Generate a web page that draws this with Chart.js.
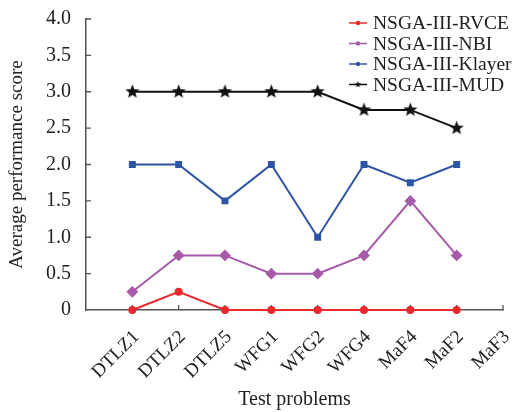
<!DOCTYPE html>
<html>
<head>
<meta charset="utf-8">
<script src="https://cdn.jsdelivr.net/npm/chart.js@4"></script>
<style>
  body { margin: 0; background: #fff; }
</style>
</head>
<body>
<canvas id="scoreChart" width="515" height="412"></canvas>
<script>
// Testproblemen en scores per algoritme
const problems = ["DTLZ1", "DTLZ2", "DTLZ5", "WFG1", "WFG2", "WFG4", "MaF4", "MaF2", "MaF3"];
const rvce = [0, 0.25, 0, 0, 0, 0, 0, 0];
const nbi = [0.25, 0.75, 0.75, 0.5, 0.5, 0.75, 1.5, 0.75];
const klayer = [2, 2, 1.5, 2, 1, 2, 1.75, 2];
const mud = [3, 3, 3, 3, 3, 2.75, 2.75, 2.5];
const yTicks = [0, 0.5, 1, 1.5, 2, 2.5, 3, 3.5, 4];

const serif = "'Liberation Serif', 'DejaVu Serif', serif";

// Gevulde ster als puntstijl
function makeStar(r, color) {
    const c = document.createElement("canvas");
    c.width = c.height = Math.ceil(r * 2 + 2);
    const g = c.getContext("2d");
    const cx = c.width / 2, cy = c.height / 2;
    g.beginPath();
    for (let i = 0; i < 10; i++) {
        const rad = i % 2 === 0 ? r : r * 0.42;
        const a = -Math.PI / 2 + i * Math.PI / 5;
        g.lineTo(cx + rad * Math.cos(a), cy + rad * Math.sin(a));
    }
    g.closePath();
    g.fillStyle = color;
    g.fill();
    return c;
}

const toPoints = arr => arr.map((v, i) => ({ x: i + 1, y: v }));

const series = [
    { label: "NSGA-III-RVCE", data: rvce, color: "#e8282c", style: "circle", radius: 3 },
    { label: "NSGA-III-NBI", data: nbi, color: "#a65aa8", style: "rectRot", radius: 4.5 },
    { label: "NSGA-III-Klayer", data: klayer, color: "#2d55a3", style: "rect", radius: 3.5 },
    { label: "NSGA-III-MUD", data: mud, color: "#111111", style: makeStar(7.5, "#111111"), radius: 7 }
];

// Legenda rechtsboven in het plotvlak
const legendPlugin = {
    id: "cornerLegend",
    afterDraw(chart) {
        const ctx = chart.ctx;
        ctx.save();
        ctx.font = "19.5px " + serif;
        ctx.textBaseline = "middle";
        ctx.textAlign = "left";
        series.forEach((s, i) => {
            const y = 23 + i * 20.5;
            ctx.strokeStyle = s.color;
            ctx.lineWidth = 1.5;
            ctx.beginPath();
            ctx.moveTo(349, y);
            ctx.lineTo(367, y);
            ctx.stroke();
            ctx.fillStyle = s.color;
            if (i === 3) {
                const st = makeStar(3.5, s.color);
                ctx.drawImage(st, 358 - st.width / 2, y - st.height / 2);
            } else {
                ctx.beginPath();
                ctx.arc(358, y, 2.2, 0, Math.PI * 2);
                ctx.fill();
            }
            ctx.fillStyle = "#222";
            ctx.fillText(s.label, 373, y + 1);
        });
        ctx.restore();
    }
};

// Tickjes naar binnen gericht
const innerTicks = {
    id: "innerTicks",
    beforeDatasetsDraw(chart) {
        const { ctx, chartArea, scales } = chart;
        ctx.save();
        ctx.strokeStyle = "#555";
        ctx.lineWidth = 1.3;
        ctx.beginPath();
        yTicks.forEach(v => {
            if (v === 0) return;
            const y = scales.y.getPixelForValue(v);
            ctx.moveTo(chartArea.left, y);
            ctx.lineTo(chartArea.left + 5, y);
        });
        problems.forEach((p, i) => {
            const x = scales.x.getPixelForValue(i + 1);
            ctx.moveTo(x, chartArea.bottom);
            ctx.lineTo(x, chartArea.bottom - 5);
        });
        ctx.stroke();
        ctx.restore();
    }
};

new Chart(document.getElementById("scoreChart"), {
    type: "line",
    data: {
        datasets: series.map(s => ({
            label: s.label,
            data: toPoints(s.data),
            borderColor: s.color,
            backgroundColor: s.color,
            pointBackgroundColor: s.color,
            pointBorderColor: s.color,
            pointStyle: s.style,
            pointRadius: s.radius,
            borderWidth: 2,
            tension: 0,
            clip: false,
            fill: false
        }))
    },
    options: {
        responsive: false,
        animation: false,
        layout: { padding: { top: 19, right: 12, left: 0, bottom: 0 } },
        plugins: {
            legend: { display: false },
            tooltip: { enabled: false }
        },
        scales: {
            x: {
                type: "linear",
                min: 0,
                max: 9,
                afterFit(scale) {
                    scale.height = 102;
                    scale.paddingLeft = 0;
                    scale.paddingRight = 0;
                },
                afterBuildTicks(scale) {
                    scale.ticks = problems.map((p, i) => ({ value: i + 1 }));
                },
                grid: { display: false, drawTicks: false },
                border: { display: true, color: "#555", width: 1.5 },
                ticks: {
                    autoSkip: false,
                    minRotation: 45,
                    maxRotation: 45,
                    padding: 16,
                    labelOffset: 4,
                    color: "#222",
                    font: { family: serif, size: 19 },
                    callback: v => problems[v - 1] || ""
                },
                title: {
                    display: true,
                    text: "Test problems",
                    color: "#222",
                    font: { family: serif, size: 20 },
                    padding: { top: 0, bottom: 0 }
                }
            },
            y: {
                min: 0,
                max: 4,
                afterFit(scale) {
                    scale.width = 86;
                    scale.paddingTop = 0;
                    scale.paddingBottom = 0;
                },
                afterBuildTicks(scale) {
                    scale.ticks = yTicks.map(v => ({ value: v }));
                },
                grid: { display: false, drawTicks: false },
                border: { display: true, color: "#555", width: 1.5 },
                ticks: {
                    padding: 15,
                    color: "#222",
                    font: { family: serif, size: 20 },
                    callback: v => (v === 0 ? "0" : v.toFixed(1))
                },
                title: {
                    display: true,
                    text: "Average performance score",
                    color: "#222",
                    font: { family: serif, size: 19 },
                    padding: { top: 6, bottom: 0 }
                }
            }
        }
    },
    plugins: [innerTicks, legendPlugin]
});
</script>
</body>
</html>
